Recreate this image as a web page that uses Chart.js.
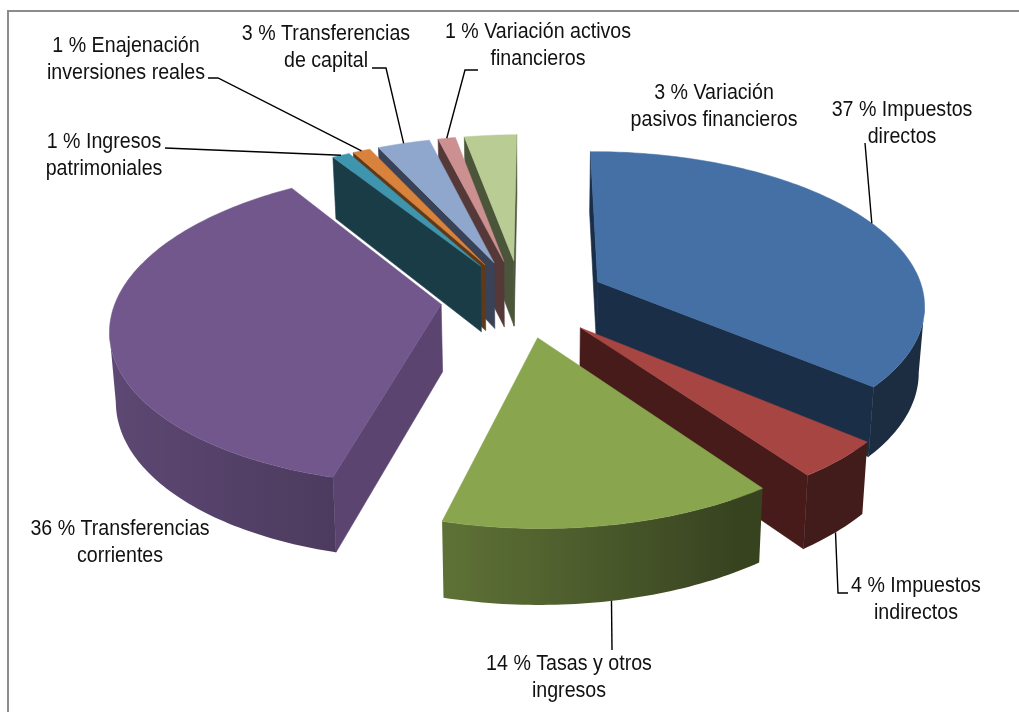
<!DOCTYPE html>
<html lang="es">
<head>
<meta charset="utf-8">
<title>Ingresos</title>
<script src="https://cdn.jsdelivr.net/npm/chart.js@4/dist/chart.umd.min.js"></script>
<style>
html,body{margin:0;padding:0;background:#fff;overflow:hidden}
canvas{display:block}
</style>
</head>
<body>
<canvas id="c" width="1019" height="712"></canvas>
<script>
const categories = ["Impuestos directos","Impuestos indirectos","Tasas y otros ingresos","Transferencias corrientes","Ingresos patrimoniales","Enajenación inversiones reales","Transferencias de capital","Variación activos financieros","Variación pasivos financieros"];
const percents = [37,4,14,36,1,1,3,1,3];
const topColors = ["#4570A5","#A64542","#89A54E","#71578C","#4095AE","#D9823C","#8FA6CD","#CC9090","#B9CC94"];
const cutColors = ["#1A2E47","#471B19","#36401C","#5B4470","#1A3C47","#5E3A1A","#3A4258","#553838","#4B553A"];
const labelLines = [
  ["37 % Impuestos","directos"],
  ["4 % Impuestos","indirectos"],
  ["14 % Tasas y otros","ingresos"],
  ["36 % Transferencias","corrientes"],
  ["1 % Ingresos","patrimoniales"],
  ["1 % Enajenación","inversiones reales"],
  ["3 % Transferencias","de capital"],
  ["1 % Variación activos","financieros"],
  ["3 % Variación","pasivos financieros"]
];
// label layout: centre x, first baseline y
const labelCentreX = [902,916,569,120,104,126,326,538,714];
const labelBaseY = [116,592,670,535,148,52,40,38,99];
// leader path from the label towards the slice (empty = no leader)
const leaderPaths = [
  [[865,143]],
  [[848,593],[838,593]],
  [[612,650]],
  [],
  [[165,148]],
  [[208,78],[218,78]],
  [[372,68],[386,68]],
  [[478,70],[465,70]],
  []
];
const leaderOnWall = [false,true,true,false,false,false,false,false,false];

// 3D view of the pie plane
const VIEW = {cx:535, cy:298, rx:325.5, ry:152.6, persp:0.1373, perspX:-0.02, depth:67, depthPow:0.7, bottomScale:0.985, explode:0.255, apexDX:-11};

function project(px, py, low, apex){
  const w = 1/(1 - VIEW.persp*py - VIEW.perspX*px);
  let X = VIEW.rx*px*w, Y = VIEW.ry*py*w;
  if(apex) X += VIEW.apexDX;
  if(low){ X *= VIEW.bottomScale; Y += VIEW.depth*Math.pow(w,VIEW.depthPow); }
  return {x:VIEW.cx+X, y:VIEW.cy+Y};
}
function wallShade(px){
  if(px < -0.2) return 0.84 + (px+1)/0.8*(0.665-0.84);
  if(px < 0.5) return 0.665 + (px+0.2)/0.7*(0.4-0.665);
  return 0.4;
}
function scaleColor(hex,f){
  const n = parseInt(hex.slice(1),16);
  return `rgb(${Math.round((n>>16&255)*f)},${Math.round((n>>8&255)*f)},${Math.round((n&255)*f)})`;
}
function quad(ctx,a,b,c,d,col){
  ctx.beginPath();ctx.moveTo(a.x,a.y);ctx.lineTo(b.x,b.y);ctx.lineTo(c.x,c.y);ctx.lineTo(d.x,d.y);ctx.closePath();
  ctx.fillStyle=col;ctx.strokeStyle=col;ctx.lineWidth=0.6;ctx.fill();ctx.stroke();
}

const pie3d = {
  id:'pie3d',
  beforeDatasetDraw(){ return false; },
  afterDatasetsDraw(chart){
    const ctx = chart.ctx, arcs = chart.getDatasetMeta(0).data;
    const slices = arcs.map((arc,i)=>{
      const s = arc.startAngle, e = arc.endAngle, m = (s+e)/2;
      return {i, s, e, m, ox:Math.cos(m)*VIEW.explode, oy:Math.sin(m)*VIEW.explode,
              top:arc.options.backgroundColor};
    });
    const order = slices.slice().sort((a,b)=>Math.sin(a.m)-Math.sin(b.m));
    for(const sl of order){
      const n = Math.max(2,Math.ceil((sl.e-sl.s)/(Math.PI/180)));
      const rim = [];
      for(let k=0;k<=n;k++){
        const a = sl.s+(sl.e-sl.s)*k/n;
        rim.push({px:sl.ox+Math.cos(a), py:sl.oy+Math.sin(a), nx:Math.cos(a)});
      }
      const A = project(sl.ox,sl.oy,false,true), Al = project(sl.ox,sl.oy,true,true);
      const first = rim[0], last = rim[n];
      const P0 = project(first.px,first.py), P0l = project(first.px,first.py,true);
      const Pn = project(last.px,last.py), Pnl = project(last.px,last.py,true);
      if(P0.x < A.x) quad(ctx,A,P0,P0l,Al,cutColors[sl.i]);
      if(A.x < Pn.x) quad(ctx,Pn,A,Al,Pnl,cutColors[sl.i]);
      // outer wall: the run of rim points that faces the viewer
      const run = [];
      for(let k=0;k<=n;k++){
        const p = project(rim[k].px,rim[k].py);
        const prev = k>0 ? project(rim[k-1].px,rim[k-1].py) : null;
        const next = k<n ? project(rim[k+1].px,rim[k+1].py) : null;
        if((next && next.x<p.x) || (prev && p.x<prev.x)) run.push(rim[k]);
      }
      if(run.length>1){
        const tops = run.map(r=>project(r.px,r.py)), lows = run.map(r=>project(r.px,r.py,true));
        const x0 = tops[0].x, x1 = tops[tops.length-1].x;
        const g = ctx.createLinearGradient(x0,0,x1,0);
        const st = Math.max(1,Math.floor(run.length/24));
        for(let k=0;k<run.length;k+=st){
          g.addColorStop(Math.min(1,Math.max(0,(tops[k].x-x0)/(x1-x0))),scaleColor(sl.top,wallShade(run[k].nx)));
        }
        g.addColorStop(1,scaleColor(sl.top,wallShade(run[run.length-1].nx)));
        ctx.beginPath();ctx.moveTo(tops[0].x,tops[0].y);
        for(const p of tops) ctx.lineTo(p.x,p.y);
        for(let k=lows.length-1;k>=0;k--) ctx.lineTo(lows[k].x,lows[k].y);
        ctx.closePath();ctx.fillStyle=g;ctx.fill();
      }
      ctx.beginPath();ctx.moveTo(A.x,A.y);
      for(const r of rim){const p=project(r.px,r.py);ctx.lineTo(p.x,p.y);}
      ctx.closePath();
      ctx.fillStyle=sl.top;ctx.strokeStyle=sl.top;ctx.lineWidth=0.5;ctx.fill();ctx.stroke();
    }
    // leaders
    ctx.strokeStyle='#000';ctx.lineWidth=1.4;ctx.lineJoin='miter';
    for(const sl of slices){
      const path = leaderPaths[sl.i];
      if(!path.length) continue;
      const end = project(sl.ox+Math.cos(sl.m), sl.oy+Math.sin(sl.m), leaderOnWall[sl.i]);
      ctx.beginPath();ctx.moveTo(path[0][0],path[0][1]);
      for(const p of path.slice(1)) ctx.lineTo(p[0],p[1]);
      ctx.lineTo(end.x,end.y);ctx.stroke();
    }
    // labels
    ctx.fillStyle='#111';ctx.textAlign='center';ctx.textBaseline='alphabetic';
    ctx.font='22px "Liberation Sans", Arial, sans-serif';
    labelLines.forEach((lines,i)=>lines.forEach((t,j)=>{
      ctx.save();
      ctx.translate(labelCentreX[i],labelBaseY[i]+j*27);
      ctx.scale(0.892,1);
      ctx.fillText(t,0,0);
      ctx.restore();
    }));
    // chart frame
    ctx.strokeStyle='#8c8c8c';ctx.lineWidth=2;
    ctx.beginPath();ctx.moveTo(8,712);ctx.lineTo(8,11);ctx.lineTo(1019,11);ctx.stroke();
  }
};

new Chart(document.getElementById('c'),{
  type:'pie',
  data:{labels:categories,datasets:[{data:percents,backgroundColor:topColors,borderWidth:0}]},
  options:{
    responsive:false,animation:false,events:[],rotation:-1.92,
    plugins:{legend:{display:false},tooltip:{enabled:false},title:{display:false}}
  },
  plugins:[pie3d]
});
</script>
</body>
</html>
